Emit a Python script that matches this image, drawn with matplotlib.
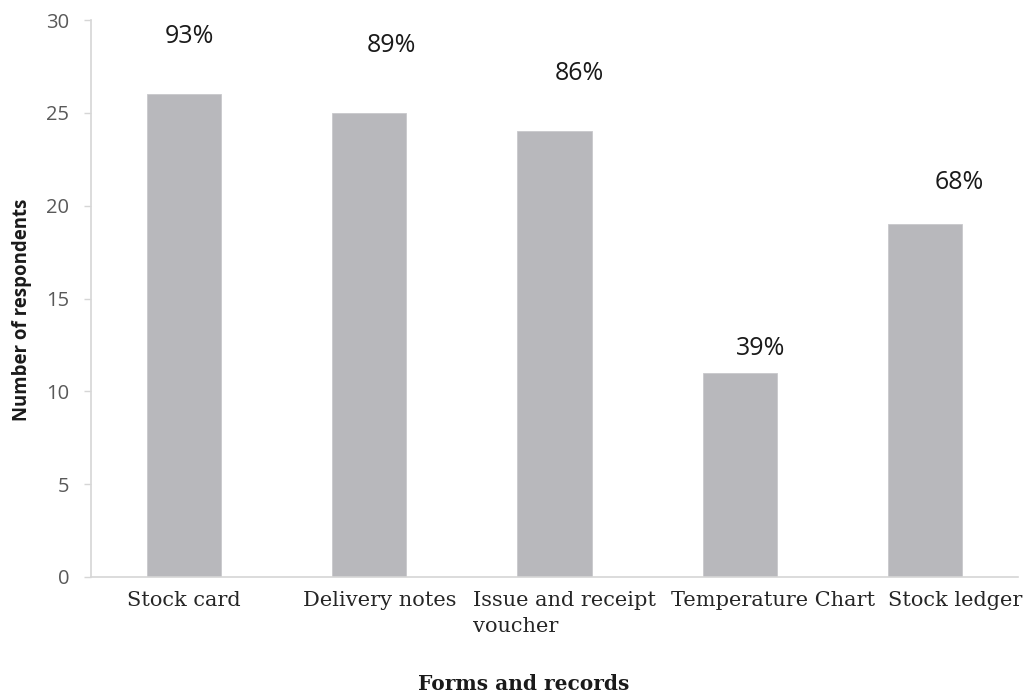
import matplotlib
matplotlib.use("Agg")
import matplotlib.pyplot as plt

# Survey: which forms and records the stores keep
forms = ["Stock card", "Delivery notes", "Issue and receipt\nvoucher",
         "Temperature Chart", "Stock ledger"]
respondents = [26, 25, 24, 11, 19]
total_respondents = 28
y_ticks = [0, 5, 10, 15, 20, 25, 30]

# label placement (pixels) - percent labels sit a bit right of / above each bar
pct_offsets = [(5.5, 58), (22, 67), (24.5, 58), (20.5, 24), (33.5, 42)]
tick_shift = [0, 11, 10, 33, 30]
slot_px = 185.4

bar_color = "#b8b8bc"
axis_color = "#d6d6d6"

fig = plt.figure(figsize=(10.25, 6.94), dpi=100)
ax = fig.add_axes([91 / 1025, 1 - 577 / 694, 927 / 1025, 557 / 694])

x = list(range(len(forms)))
ax.bar(x, respondents, width=0.40, color=bar_color, edgecolor="#c8c8cc", linewidth=0.6)

ax.set_xlim(-0.5, 4.5)
ax.set_ylim(0, 30)
ax.set_yticks(y_ticks)
ax.set_yticklabels([str(t) for t in y_ticks], fontfamily="Open Sans", fontsize=14.5, color="#595959")

# category labels are nudged right a little (long names overflow their slot)
ax.set_xticks([i + s / slot_px for i, s in zip(x, tick_shift)])
ax.set_xticklabels(forms, fontfamily="DejaVu Serif", fontsize=15, color="#262626",
                   multialignment="left", linespacing=1.45)

ax.tick_params(axis="x", length=0, pad=10)
ax.tick_params(axis="y", length=5, width=1, color=axis_color, pad=10.5)

for side in ["top", "right"]:
    ax.spines[side].set_visible(False)
ax.spines["left"].set_color(axis_color)
ax.spines["bottom"].set_color(axis_color)
ax.spines["left"].set_linewidth(1.2)
ax.spines["bottom"].set_linewidth(1.2)

# percentage of all respondents above each bar
for i, n in enumerate(respondents):
    pct = round(n / total_respondents * 100)
    dx, dy = pct_offsets[i]
    ax.annotate(f"{pct}%", xy=(i, n), xytext=(dx, dy), textcoords="offset pixels",
                ha="center", va="center", fontfamily="Open Sans", fontsize=18,
                color="#1a1a1a")

ax.set_ylabel("Number of respondents", fontfamily="Open Sans", fontweight="bold",
              fontsize=13.4, color="#1a1a1a", va="center")
ax.yaxis.set_label_coords((22 - 91) / 927, 0.48)

ax.set_xlabel("Forms and records", fontfamily="DejaVu Serif", fontweight="bold",
              fontsize=14.5, color="#1a1a1a", va="center")
ax.xaxis.set_label_coords((524 - 91) / 927, (577 - 684) / 557)

fig.savefig("out.png", dpi=100)
